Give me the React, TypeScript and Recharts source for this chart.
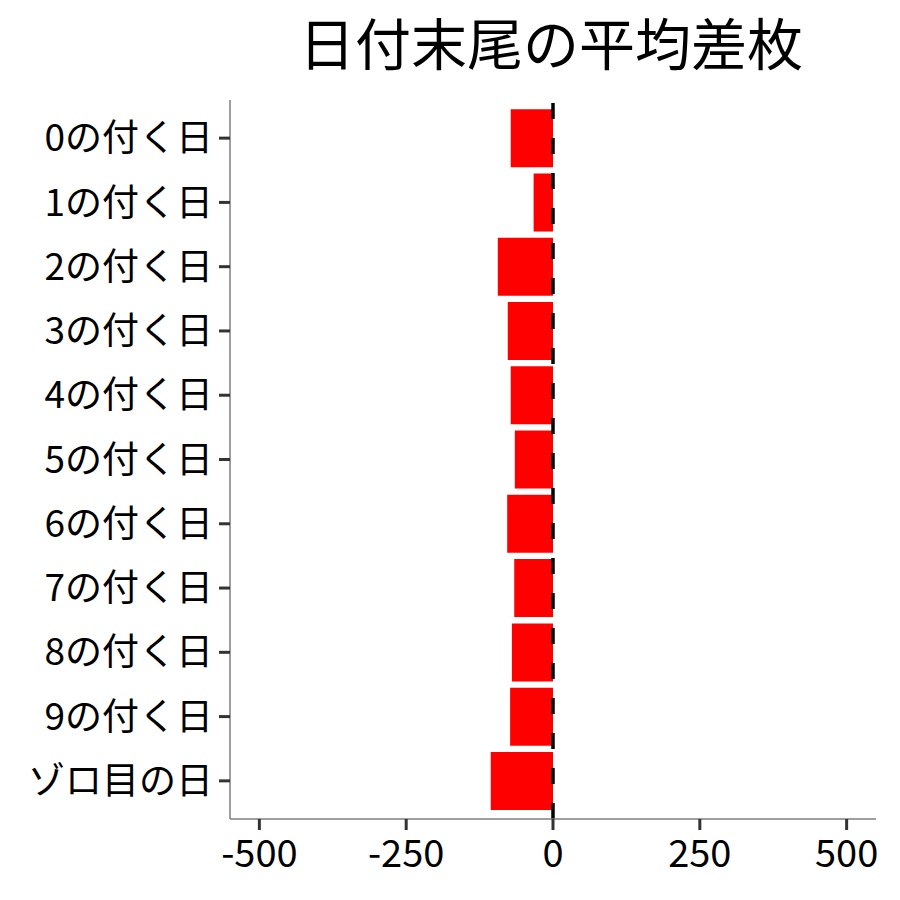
import React from "react";
import { BarChart, Bar, XAxis, YAxis, ReferenceLine } from "recharts";

const categories = [
  "0の付く日",
  "1の付く日",
  "2の付く日",
  "3の付く日",
  "4の付く日",
  "5の付く日",
  "6の付く日",
  "7の付く日",
  "8の付く日",
  "9の付く日",
  "ゾロ目の日",
];
const avgDiff = [-72, -33, -94, -77, -72, -65, -78, -66, -70, -73, -106];
const xTicks = [-500, -250, 0, 250, 500];

const data = categories.map((name, i) => ({ name, value: avgDiff[i] }));

const FONT = '"Noto Sans CJK JP", "Noto Sans", sans-serif';

const App: React.FC = () => {
  return (
    <div style={{ position: "absolute", left: 0, top: 0, width: 900, height: 900, background: "#fff", fontFamily: FONT }}>
      {/* タイトル */}
      <div
        style={{
          position: "absolute",
          left: 228,
          width: 646,
          top: 13,
          textAlign: "center",
          fontSize: 56,
          lineHeight: "56px",
          color: "#000",
        }}
      >
        日付末尾の平均差枚
      </div>

      <BarChart
        width={900}
        height={900}
        data={data}
        layout="vertical"
        margin={{ top: 100, right: 24, bottom: 0, left: 0 }}
        barCategoryGap="5%"
      >
        <XAxis
          type="number"
          domain={[-550, 550]}
          ticks={xTicks}
          allowDataOverflow
          height={81}
          axisLine={{ stroke: "#7f7f7f", strokeWidth: 1.5 }}
          tickLine={{ stroke: "#333", strokeWidth: 3 }}
          tickSize={11}
          tickMargin={10}
          tick={{ fill: "#000", fontSize: 38, fontFamily: FONT }}
        />
        <YAxis
          type="category"
          dataKey="name"
          width={230}
          padding={{ top: 6, bottom: 6 }}
          axisLine={{ stroke: "#7f7f7f", strokeWidth: 1.5 }}
          tickLine={{ stroke: "#333", strokeWidth: 3 }}
          tickSize={11}
          tickMargin={6}
          interval={0}
          tick={{ fill: "#000", fontSize: 37, fontFamily: FONT }}
        />
        <Bar dataKey="value" fill="#ff0000" isAnimationActive={false} />
        <ReferenceLine x={0} stroke="#000" strokeWidth={3.5} strokeDasharray="16 19" />
      </BarChart>
    </div>
  );
};

export default App;
